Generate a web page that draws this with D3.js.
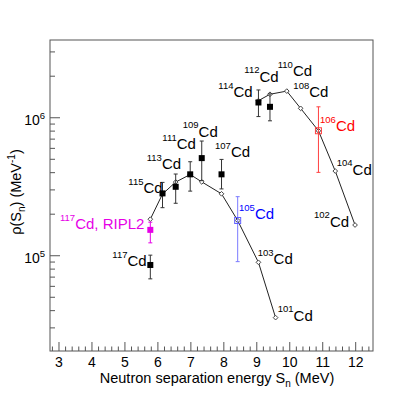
<!DOCTYPE html>
<html>
<head>
<meta charset="utf-8">
<script src="https://cdn.jsdelivr.net/npm/d3@7"></script>
<style>
  body { margin: 0; background: #fff; }
  text { font-family: "Liberation Sans", Arial, sans-serif; }
</style>
</head>
<body>
<script>
// odd-A chain (line with open diamonds)
var oddSn  = [5.77, 6.14, 6.54, 6.98, 7.33, 7.93, 8.42, 9.05, 9.57];
var oddRho = [1.84e5, 2.8e5, 3.42e5, 3.88e5, 3.43e5, 2.81e5, 1.8e5, 8.96e4, 3.56e4];
// even-A chain
var evenSn  = [9.05, 9.40, 9.91, 10.33, 10.87, 11.38, 11.98];
var evenRho = [1.33e6, 1.48e6, 1.56e6, 1.17e6, 8.05e5, 4.11e5, 1.67e5];
// experimental points (filled squares)
var expSn  = [5.77, 6.14, 6.54, 6.98, 7.33, 7.93, 9.05, 9.40];
var expRho = [8.57e4, 2.83e5, 3.16e5, 3.89e5, 5.1e5, 3.89e5, 1.29e6, 1.2e6];
var expLo  = [6.8e4, 2.23e5, 2.4e5, 2.94e5, 3.5e5, 3.05e5, 1.02e6, 9.5e5];
var expHi  = [1.01e5, 3.4e5, 3.91e5, 4.8e5, 6.78e5, 4.99e5, 1.59e6, 1.49e6];
// special points
var riplSn = 5.77, riplRho = 1.54e5, riplLo = 1.24e5, riplHi = 1.75e5;
var cd105Sn = 8.42, cd105Rho = 1.8e5, cd105Lo = 9.06e4, cd105Hi = 2.68e5;
var cd106Sn = 10.87, cd106Rho = 8.05e5, cd106Lo = 4.02e5, cd106Hi = 1.2e6;

var xTicks = [3, 4, 5, 6, 7, 8, 9, 10, 11, 12];
var yTicks = [1e5, 1e6];

// isotope labels: mass, text after mass, anchor in data units, colour
var labels = [
  {m: "109", t: "Cd", x: 6.753, y: 7.28e5, c: "#000"},
  {m: "111", t: "Cd", x: 6.134, y: 5.93e5, c: "#000"},
  {m: "113", t: "Cd", x: 5.661, y: 4.25e5, c: "#000"},
  {m: "115", t: "Cd", x: 5.103, y: 2.83e5, c: "#000"},
  {m: "117", t: "Cd, RIPL2", x: 3.03, y: 1.55e5, c: "#e600e6"},
  {m: "117", t: "Cd", x: 4.617, y: 8.41e4, c: "#000"},
  {m: "112", t: "Cd", x: 8.622, y: 1.82e6, c: "#000"},
  {m: "110", t: "Cd", x: 9.635, y: 2.0e6, c: "#000"},
  {m: "114", t: "Cd", x: 7.833, y: 1.41e6, c: "#000"},
  {m: "108", t: "Cd", x: 10.109, y: 1.41e6, c: "#000"},
  {m: "106", t: "Cd", x: 10.919, y: 8.01e5, c: "#ff0000"},
  {m: "107", t: "Cd", x: 7.733, y: 5.16e5, c: "#000"},
  {m: "104", t: "Cd", x: 11.425, y: 3.85e5, c: "#000"},
  {m: "105", t: "Cd", x: 8.461, y: 1.84e5, c: "#0000ff"},
  {m: "102", t: "Cd", x: 10.737, y: 1.62e5, c: "#000"},
  {m: "103", t: "Cd", x: 9.029, y: 8.71e4, c: "#000"},
  {m: "101", t: "Cd", x: 9.635, y: 3.38e4, c: "#000"}
];

var W = 415, H = 399;
var L = 50, R = 373, T = 40, B = 351;

var svg = d3.select("body").append("svg")
  .attr("width", W)
  .attr("height", H);

var x = d3.scaleLinear().domain([2.727, 12.525]).range([L, R]);
var y = d3.scaleLog().domain([2.04e4, 3.66e6]).range([B, T]);

var axisCol = "#555";

// frame
svg.append("rect")
  .attr("x", L).attr("y", T)
  .attr("width", R - L).attr("height", B - T)
  .attr("fill", "none").attr("stroke", axisCol).attr("stroke-width", 1);

// x ticks (major + minor every 0.2)
var xMinor = d3.range(2.8, 12.52, 0.2).map(function(d) { return Math.round(d * 10) / 10; });
svg.selectAll(".xt")
  .data(xMinor)
  .enter().append("line")
  .attr("x1", function(d) { return x(d); })
  .attr("x2", function(d) { return x(d); })
  .attr("y1", B)
  .attr("y2", function(d) { return Math.abs(d - Math.round(d)) < 1e-6 ? B - 9 : B - 4.5; })
  .attr("stroke", axisCol);

svg.selectAll(".xl")
  .data(xTicks)
  .enter().append("text")
  .attr("x", function(d) { return x(d); })
  .attr("y", 367)
  .attr("text-anchor", "middle")
  .attr("font-size", 14)
  .text(function(d) { return d; });

// y ticks
var yMinor = [];
[1e4, 1e5, 1e6].forEach(function(p) {
  for (var k = 1; k < 10; k++) {
    var v = p * k;
    if (v >= 2.04e4 && v <= 3.66e6) yMinor.push(v);
  }
});
svg.selectAll(".yt")
  .data(yMinor)
  .enter().append("line")
  .attr("y1", function(d) { return y(d); })
  .attr("y2", function(d) { return y(d); })
  .attr("x1", L)
  .attr("x2", function(d) { return yTicks.indexOf(d) >= 0 ? L + 10 : L + 5; })
  .attr("stroke", axisCol);

var yl = svg.selectAll(".yl")
  .data(yTicks)
  .enter().append("text")
  .attr("x", 45)
  .attr("y", function(d) { return y(d) + 7.5; })
  .attr("text-anchor", "end")
  .attr("font-size", 14);
yl.append("tspan").text("10");
yl.append("tspan").attr("font-size", 9.5).attr("dy", -6)
  .text(function(d) { return Math.round(Math.log10(d)); });

// axis titles
var xt = svg.append("text")
  .attr("x", 217).attr("y", 383)
  .attr("text-anchor", "middle")
  .attr("font-size", 14.5);
xt.append("tspan").text("Neutron separation energy S");
xt.append("tspan").attr("font-size", 10).attr("dy", 4).text("n");
xt.append("tspan").attr("dy", -4).text(" (MeV)");

var yt = svg.append("text")
  .attr("transform", "translate(21,192) rotate(-90)")
  .attr("text-anchor", "middle")
  .attr("font-size", 14.5);
yt.append("tspan").text("\u03c1(S");
yt.append("tspan").attr("font-size", 10).attr("dy", 4).text("n");
yt.append("tspan").attr("dy", -4).text(") (MeV");
yt.append("tspan").attr("font-size", 10).attr("dy", -6).text("-1");
yt.append("tspan").attr("dy", 6).text(")");

// lines through the model points
var line = d3.line()
  .x(function(d) { return x(d[0]); })
  .y(function(d) { return y(d[1]); });

var oddPts = oddSn.map(function(s, i) { return [s, oddRho[i]]; });
var evenPts = evenSn.map(function(s, i) { return [s, evenRho[i]]; });

[oddPts, evenPts].forEach(function(pts) {
  svg.append("path")
    .datum(pts)
    .attr("d", line)
    .attr("fill", "none")
    .attr("stroke", "#222")
    .attr("stroke-width", 1);
});

var diamond = d3.symbol().type(d3.symbolDiamond2).size(14);
svg.selectAll(".dm")
  .data(oddPts.concat(evenPts))
  .enter().append("path")
  .attr("d", diamond)
  .attr("transform", function(d) { return "translate(" + x(d[0]) + "," + y(d[1]) + ")"; })
  .attr("fill", "#fff")
  .attr("stroke", "#444")
  .attr("stroke-width", 1);

// error bars helper
function errBar(sn, lo, hi, col) {
  var cx = x(sn);
  svg.append("line").attr("x1", cx).attr("x2", cx)
    .attr("y1", y(lo)).attr("y2", y(hi))
    .attr("stroke", col).attr("stroke-width", 1);
  [lo, hi].forEach(function(v) {
    svg.append("line").attr("x1", cx - 2).attr("x2", cx + 2)
      .attr("y1", y(v)).attr("y2", y(v))
      .attr("stroke", col).attr("stroke-width", 1);
  });
}

// experimental squares
expSn.forEach(function(s, i) { errBar(s, expLo[i], expHi[i], "#333"); });
svg.selectAll(".sq")
  .data(expSn)
  .enter().append("rect")
  .attr("x", function(d) { return x(d) - 3; })
  .attr("y", function(d, i) { return y(expRho[i]) - 3; })
  .attr("width", 6).attr("height", 6)
  .attr("fill", "#000");

// RIPL2
errBar(riplSn, riplLo, riplHi, "#e600e6");
svg.append("rect")
  .attr("x", x(riplSn) - 3).attr("y", y(riplRho) - 3)
  .attr("width", 6).attr("height", 6)
  .attr("fill", "#e600e6");

// 105Cd and 106Cd open squares
errBar(cd105Sn, cd105Lo, cd105Hi, "#7a7aff");
svg.append("rect")
  .attr("x", x(cd105Sn) - 3).attr("y", y(cd105Rho) - 3)
  .attr("width", 6).attr("height", 6)
  .attr("fill", "none").attr("stroke", "#6060ff");

errBar(cd106Sn, cd106Lo, cd106Hi, "#ff4040");
svg.append("rect")
  .attr("x", x(cd106Sn) - 3).attr("y", y(cd106Rho) - 3)
  .attr("width", 6).attr("height", 6)
  .attr("fill", "none").attr("stroke", "#ff4040");

// isotope labels
var lab = svg.selectAll(".lab")
  .data(labels)
  .enter().append("text")
  .attr("x", function(d) { return x(d.x); })
  .attr("y", function(d) { return y(d.y); })
  .attr("fill", function(d) { return d.c; })
  .attr("font-size", 15);
lab.append("tspan").attr("font-size", 9.5).attr("dy", -8.5).text(function(d) { return d.m; });
lab.append("tspan").attr("dy", 8.5).text(function(d) { return d.t; });
</script>
</body>
</html>
